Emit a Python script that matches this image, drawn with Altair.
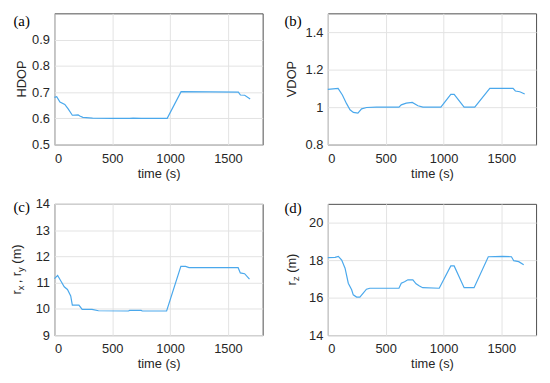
import altair as alt
import pandas as pd

# ---------------- data ----------------
t_hdop = [0, 20, 48, 90, 119, 155, 205, 220, 246, 330, 500, 650, 680, 750, 975, 1095, 1590, 1608, 1645, 1692]
hdop = [0.680, 0.683, 0.662, 0.653, 0.636, 0.612, 0.613, 0.609, 0.604, 0.601, 0.600, 0.600, 0.601, 0.600,
        0.600, 0.702, 0.700, 0.689, 0.688, 0.674]

t_vdop = [0, 89, 126, 161, 192, 221, 260, 292, 335, 420, 615, 635, 678, 730, 779, 822, 977, 1063, 1092,
          1178, 1270, 1400, 1601, 1621, 1659, 1702]
vdop = [1.095, 1.10, 1.065, 1.02, 0.986, 0.972, 0.968, 0.991, 0.998, 1.0, 1.0, 1.012, 1.021, 1.025, 1.007,
        1.0, 1.0, 1.068, 1.068, 1.0, 1.0, 1.10, 1.10, 1.086, 1.082, 1.07]

t_rxy = [0, 28, 56, 85, 113, 141, 155, 212, 240, 325, 381, 640, 650, 750, 760, 970, 1093, 1134, 1163,
         1588, 1607, 1644, 1686]
rxy = [11.15, 11.27, 11.06, 10.84, 10.74, 10.49, 10.14, 10.14, 9.98, 9.98, 9.93, 9.92, 9.94, 9.94, 9.92,
       9.92, 11.62, 11.62, 11.57, 11.57, 11.37, 11.34, 11.13]

t_rz = [0, 63, 91, 120, 149, 177, 206, 220, 249, 277, 306, 334, 363, 615, 635, 663, 692, 735, 763, 792,
        820, 963, 1063, 1092, 1178, 1264, 1387, 1507, 1587, 1607, 1650, 1693]
rz = [18.13, 18.15, 18.2, 18.0, 17.57, 16.77, 16.42, 16.15, 16.03, 16.03, 16.24, 16.45, 16.5, 16.5, 16.77,
      16.85, 16.95, 16.95, 16.74, 16.62, 16.53, 16.5, 17.69, 17.69, 16.53, 16.53, 18.18, 18.2, 18.18,
      17.97, 17.92, 17.75]

x_ticks = [0, 500, 1000, 1500]
y_ticks_a = [0.5, 0.6, 0.7, 0.8, 0.9]
y_ticks_b = [0.8, 1.0, 1.2, 1.4]
y_ticks_c = [9, 10, 11, 12, 13, 14]
y_ticks_d = [14, 16, 18, 20]

# ---------------- style ----------------
LINE = "#4aa8ec"
TXT = "#262626"
FONT = "Liberation Sans"
W, H = 211, 133
FS = 13
SUB = 9.5

CW = {"H": .722, "D": .722, "O": .778, "P": .667, "V": .667, "r": .333, "x": .5, "y": .5, "z": .5,
      ",": .278, " ": .278, "(": .333, ")": .333, "m": .833}


def tw(s, fs):
    return sum(CW.get(c, .55) for c in s) * fs


def title_layers(parts, tx):
    """parts: list of (text, is_subscript, gap_before); drawn rotated, reading bottom to top."""
    items = [(p, SUB if sub else FS, sub, gap) for p, sub, gap in parts]
    total = sum(tw(p, fs) + gap for p, fs, _, gap in items)
    pos = H / 2 + total / 2
    out = []
    for p, fs, sub, gap in items:
        pos -= gap
        out.append(
            alt.Chart(pd.DataFrame({"s": [p]})).mark_text(
                font=FONT, fontSize=fs, angle=270, align="left", baseline="alphabetic", color=TXT
            ).encode(text="s:N", x=alt.value(tx + (3 if sub else 0)), y=alt.value(pos))
        )
        pos -= tw(p, fs)
    return out


def panel(t, v, ydom, yvals, tag, tag_x, tag_y, parts, tx):
    df = pd.DataFrame({"t": t, "v": v})
    line = alt.Chart(df).mark_line(color=LINE, strokeWidth=1.2).encode(
        x=alt.X("t:Q", scale=alt.Scale(domain=[0, 1800], nice=False, zero=False),
                axis=alt.Axis(values=x_ticks, format="d", title="time (s)")),
        y=alt.Y("v:Q", scale=alt.Scale(domain=ydom, nice=False, zero=False),
                axis=alt.Axis(values=yvals, format="~g", title=None)),
    )
    lab = alt.Chart(pd.DataFrame({"s": [tag]})).mark_text(
        font="Liberation Serif", fontSize=15, align="left", baseline="middle", color="#000"
    ).encode(text="s:N", x=alt.value(tag_x), y=alt.value(tag_y))
    return alt.layer(line, lab, *title_layers(parts, tx)).properties(width=W, height=H)


pa = panel(t_hdop, hdop, [0.5, 1.0], y_ticks_a, "(a)", -41.5, 8, [("HDOP", False, 0)], -29)
pb = panel(t_vdop, vdop, [0.8, 1.5], y_ticks_b, "(b)", -44, 8, [("VDOP", False, 0)], -32)
pc = panel(t_rxy, rxy, [9, 14], y_ticks_c, "(c)", -41.5, 3,
           [("r", False, 0), ("x", True, 0), (",", False, 2.5), ("r", False, 3.5),
            ("y", True, 0), ("(m)", False, 3.6)], -34)
pd_ = panel(t_rz, rz, [14, 21], y_ticks_d, "(d)", -44, 4,
            [("r", False, 0), ("z", True, 0), ("(m)", False, 3.6)], -32.5)

chart = alt.ConcatChart(
    concat=[pa, pb, pc, pd_], columns=2, spacing={"row": 60, "column": 66}, bounds="flush"
).properties(
    padding={"left": 2, "top": 2, "right": 5, "bottom": 5}
).configure_view(
    stroke="#4d4d4d", strokeWidth=1
).configure_axis(
    domain=False, ticks=False, grid=True, gridColor="#e3e3e3", gridWidth=1,
    labelFont=FONT, labelFontSize=FS, labelColor=TXT, titleFont=FONT, titleFontSize=FS,
    titleColor=TXT, titleFontWeight="normal"
).configure_axisY(labelPadding=5).configure_axisX(labelPadding=8, titlePadding=2)

chart.save("out.html", embed_options={"renderer": "svg", "actions": False})
